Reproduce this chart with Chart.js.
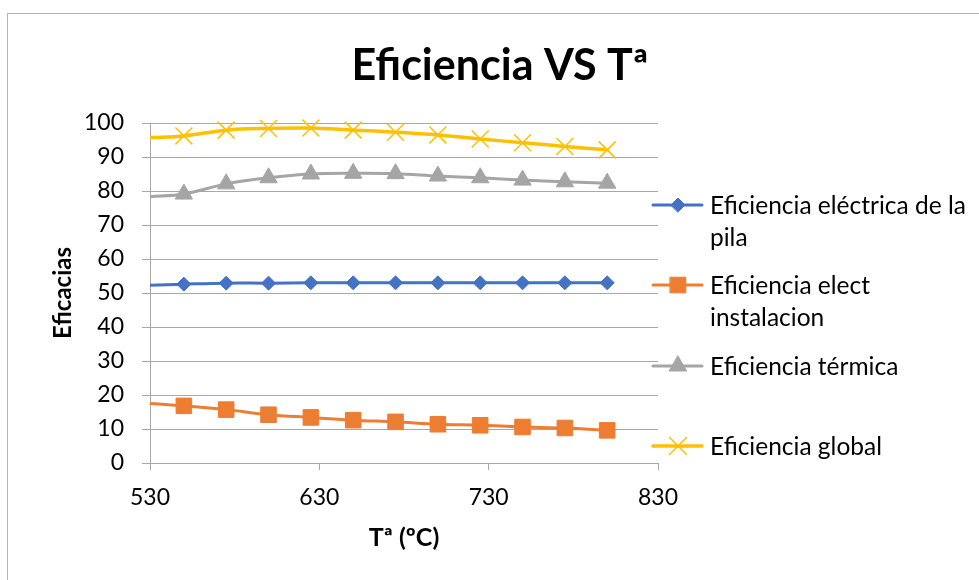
<!DOCTYPE html>
<html><head><meta charset="utf-8">
<script src="https://cdn.jsdelivr.net/npm/chart.js@4.4.0/dist/chart.umd.min.js"></script>
<style>html,body{margin:0;padding:0;background:#fff;} #wrap{width:979px;height:580px;position:relative;}</style>
</head><body><div id="wrap"><canvas id="c" width="979" height="580"></canvas></div>
<script>
// ---- data ----
const temps = [530, 550, 575, 600, 625, 650, 675, 700, 725, 750, 775, 800];
const efElectPila = [52.3, 52.6, 52.9, 52.9, 53.0, 53.0, 53.0, 53.0, 53.0, 53.0, 53.0, 53.0];
const efElectInst = [17.5, 16.8, 15.7, 14.2, 13.4, 12.6, 12.1, 11.4, 11.1, 10.6, 10.3, 9.6];
const efTermica   = [78.3, 79.1, 82.1, 83.9, 85.0, 85.2, 85.1, 84.4, 83.9, 83.2, 82.7, 82.3];
const efGlobal    = [95.7, 96.2, 97.9, 98.4, 98.5, 97.9, 97.3, 96.5, 95.3, 94.2, 93.1, 92.1];
const seriesNames = ['Eficiencia eléctrica de la pila', 'Eficiencia elect instalacion', 'Eficiencia térmica', 'Eficiencia global'];
const legendLines = [['Eficiencia eléctrica de la', 'pila'], ['Eficiencia elect', 'instalacion'], ['Eficiencia térmica'], ['Eficiencia global']];
const xTickValues = [530, 630, 730, 830];
const yTickValues = [0, 10, 20, 30, 40, 50, 60, 70, 80, 90, 100];
const chartTitle = 'Eficiencia VS Tª';
const xTitle = 'Tª (ºC)';
const yTitle = 'Eficacias';

// ---- styles ----
const FONT = 'Lato, "Noto Sans", sans-serif';
const colors = ['#4472C4', '#ED7D31', '#A5A5A5', '#FFC000'];
const pStyles = ['rectRot', 'rect', 'triangle', 'crossRot'];
const pRadius = [7, 11, 10, 12];
const lWidth = [3, 3, 3, 3.5];
const gridColor = '#a8a8a8';
const legendY = [205, 285, 366, 446];

const allSeries = [efElectPila, efElectInst, efTermica, efGlobal];
const datasets = allSeries.map((vals, i) => ({
  label: seriesNames[i],
  data: temps.map((t, k) => ({x: t, y: vals[k]})),
  borderColor: colors[i],
  backgroundColor: colors[i],
  borderWidth: lWidth[i],
  showLine: true,
  tension: 0.35,
  pointStyle: pStyles[i],
  pointRadius: temps.map((t, k) => k === 0 ? 0 : pRadius[i]),
  pointHoverRadius: temps.map((t, k) => k === 0 ? 0 : pRadius[i]),
  pointBorderWidth: i === 3 ? 1.5 : 1,
  pointBorderColor: colors[i],
  pointBackgroundColor: colors[i],
  clip: false
}));

const deco = {
  id: 'deco',
  beforeDraw(chart) {
    const ctx = chart.ctx;
    ctx.save();
    ctx.fillStyle = '#fff';
    ctx.fillRect(0, 0, chart.width, chart.height);
    ctx.strokeStyle = '#b4b4b4';
    ctx.lineWidth = 1;
    ctx.strokeRect(7.5, 13.5, 1200, 1200);
    ctx.restore();
  },
  afterDraw(chart) {
    const ctx = chart.ctx;
    const area = chart.chartArea;
    ctx.save();
    ctx.fillStyle = '#000';
    // title
    ctx.font = 'bold 43px ' + FONT;
    ctx.textAlign = 'center';
    ctx.textBaseline = 'alphabetic';
    ctx.fillText(chartTitle, 500, 80);
    // x title
    ctx.font = 'bold 25px ' + FONT;
    ctx.fillText(xTitle, (area.left + area.right) / 2, 546);
    // y title
    ctx.font = 'bold 24px ' + FONT;
    ctx.save();
    ctx.translate(71, (area.top + area.bottom) / 2);
    ctx.rotate(-Math.PI / 2);
    ctx.fillText(yTitle, 0, 0);
    ctx.restore();
    // legend
    ctx.font = '24.5px ' + FONT;
    ctx.textAlign = 'left';
    for (let i = 0; i < legendLines.length; i++) {
      const y = legendY[i];
      ctx.strokeStyle = colors[i];
      ctx.lineWidth = lWidth[i];
      ctx.lineCap = 'round';
      ctx.beginPath();
      ctx.moveTo(653, y);
      ctx.lineTo(702, y);
      ctx.stroke();
      ctx.fillStyle = colors[i];
      ctx.lineWidth = i === 3 ? 1.5 : 1;
      Chart.helpers.drawPoint(ctx, {pointStyle: pStyles[i], radius: pRadius[i], rotation: 0, borderWidth: i === 3 ? 1.5 : 1}, 678, y);
      ctx.fillStyle = '#000';
      legendLines[i].forEach((ln, j) => ctx.fillText(ln, 710, y + 9 + j * 32));
    }
    ctx.restore();
  }
};

new Chart(document.getElementById('c'), {
  type: 'scatter',
  data: {datasets},
  options: {
    responsive: false,
    animation: false,
    devicePixelRatio: 1,
    layout: {padding: {left: 0, top: 123, right: 321, bottom: 57}},
    plugins: {legend: {display: false}, title: {display: false}, tooltip: {enabled: false}},
    scales: {
      x: {
        type: 'linear', min: 530, max: 830,
        afterBuildTicks: (s) => { s.ticks = xTickValues.map(v => ({value: v})); },
        afterFit: (s) => { s.height = 60; },
        ticks: {color: '#000', font: {family: FONT, size: 23}, padding: 14, maxRotation: 0},
        grid: {drawOnChartArea: false, drawTicks: true, tickLength: 7, color: gridColor},
        border: {display: true, color: gridColor}
      },
      y: {
        type: 'linear', min: 0, max: 100,
        afterBuildTicks: (s) => { s.ticks = yTickValues.map(v => ({value: v})); },
        afterFit: (s) => { s.width = 150; },
        ticks: {color: '#000', font: {family: FONT, size: 23}, padding: 18},
        grid: {color: gridColor, tickLength: 8},
        border: {display: true, color: gridColor}
      }
    }
  },
  plugins: [deco]
});
</script></body></html>
